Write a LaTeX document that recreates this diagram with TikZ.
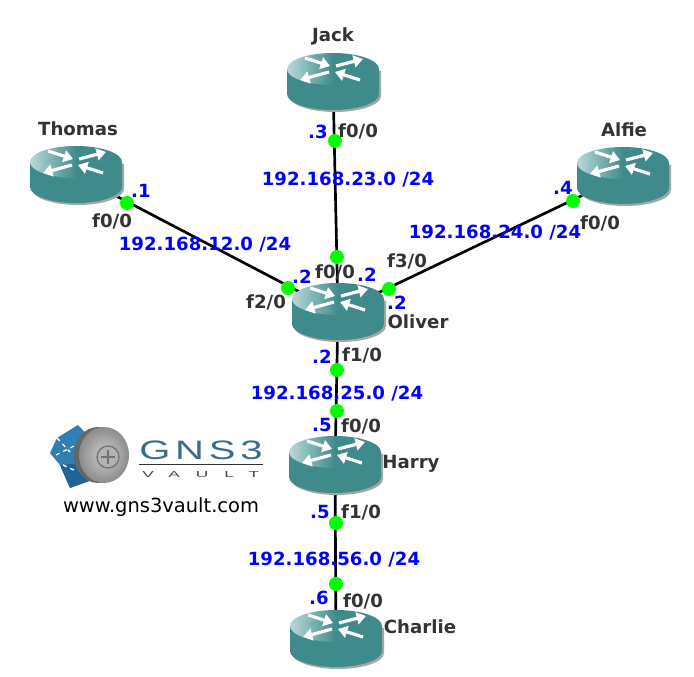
\documentclass[tikz,border=0pt]{standalone}
\usepackage{fontspec}
\setmainfont{DejaVu Sans}
\newfontfamily\logofont[LetterSpace=12]{Liberation Sans}
\newfontfamily\vaultfont[LetterSpace=92]{Liberation Sans}
\usetikzlibrary{arrows.meta}
\definecolor{routerteal}{HTML}{3F8B8B}
\definecolor{routerlight}{HTML}{B9D8D8}
\definecolor{logoblue}{HTML}{2F7FB5}
\definecolor{logodark}{HTML}{1F6496}
\definecolor{logotext}{HTML}{3D6B85}

\begin{document}
\begin{tikzpicture}[
    x=0.75pt, y=-0.75pt,
    hub/.style={circle, inner sep=0pt, minimum size=6pt},
    dot/.style={circle, fill=green, inner sep=0pt, minimum size=10.5pt},
    link/.style={draw=black, line width=2pt},
    host/.style={font=\bfseries\fontsize{13.6}{15}\selectfont, text=black!80, yshift=-1pt},
    port/.style={font=\bfseries\fontsize{13.6}{15}\selectfont, text=black!80, inner sep=0pt, yshift=-1pt},
    addr/.style={font=\bfseries\fontsize{13.6}{15}\selectfont, text=blue, inner sep=0pt, yshift=-1pt},
    net/.style={font=\bfseries\fontsize{13.6}{15}\selectfont, text=blue, inner sep=0pt, yshift=-1pt},
    flow/.style={white, line width=2.4pt, -{Triangle[width=9pt,length=7pt]}},
    router/.pic={
        \fill[black!35] (-44,-11) -- (-44,14) arc[start angle=180, end angle=0, x radius=46, y radius=16] -- (48,-11) -- cycle;
        \fill[routerteal] (-46,-13) -- (-46,12) arc[start angle=180, end angle=0, x radius=46, y radius=16] -- (46,-13) -- cycle;
        \shade[left color=routerlight, right color=routerteal, middle color=routerteal] (0,-13) ellipse[x radius=46, y radius=16];
        \draw[flow] (-28,-24) -- (-3,-16);
        \draw[flow] (3,-16) -- (30,-23);
        \draw[flow] (-4,-10) -- (-33,-2);
        \draw[flow] (27,-2) -- (2,-10);
    }
]
    \useasboundingbox (0,0) rectangle (694,677);
    \fill[white] (0,0) rectangle (694,677);

    % Nodes
    \node[hub] (jack) at (333,82) {};
    \node[hub] (thomas) at (76,175) {};
    \node[hub] (alfie) at (623,176) {};
    \node[hub] (oliver) at (338,312) {};
    \node[hub] (harry) at (335,465) {};
    \node[hub] (charlie) at (336,639) {};

    % Edges
    \draw[link] (jack) -- (oliver);
    \draw[link] (thomas) -- (oliver);
    \draw[link] (alfie) -- (oliver);
    \draw[link] (oliver) -- (harry);
    \draw[link] (harry) -- (charlie);

    % Routers
    \pic at (jack) {router};
    \pic at (thomas) {router};
    \pic at (alfie) {router};
    \pic at (oliver) {router};
    \pic at (harry) {router};
    \pic at (charlie) {router};

    % Interface dots
    \node[dot] at (335,141) {};
    \node[dot] at (337,257) {};
    \node[dot] at (127,203) {};
    \node[dot] at (288,288) {};
    \node[dot] at (573,201) {};
    \node[dot] at (389,289) {};
    \node[dot] at (337,370) {};
    \node[dot] at (337,411) {};
    \node[dot] at (336,523) {};
    \node[dot] at (336,584) {};

    % Names
    \node[host] at (333,35) {Jack};
    \node[host] at (78,127) {Thomas};
    \node[host] at (624,128) {Alfie};
    \node[host] at (418,320) {Oliver};
    \node[host] at (411,463) {Harry};
    \node[host] at (420,625) {Charlie};

    % Networks
    \node[net] at (348,178) {192.168.23.0 /24};
    \node[net] at (205,243) {192.168.12.0 /24};
    \node[net] at (495,231) {192.168.24.0 /24};
    \node[net] at (337,392) {192.168.25.0 /24};
    \node[net] at (334,558) {192.168.56.0 /24};

    % Ports
    \node[port] at (358,130) {f0/0};
    \node[port] at (335,271) {f0/0};
    \node[port] at (112,220) {f0/0};
    \node[port] at (266,301) {f2/0};
    \node[port] at (407,260) {f3/0};
    \node[port] at (600,222) {f0/0};
    \node[port] at (362,354) {f1/0};
    \node[port] at (361,425) {f0/0};
    \node[port] at (361,511) {f1/0};
    \node[port] at (363,600) {f0/0};

    % Addresses
    \node[addr] at (318,131) {.3};
    \node[addr] at (141,190) {.1};
    \node[addr] at (563,187) {.4};
    \node[addr] at (302,275) {.2};
    \node[addr] at (367,273) {.2};
    \node[addr] at (397,301) {.2};
    \node[addr] at (322,355) {.2};
    \node[addr] at (322,424) {.5};
    \node[addr] at (320,511) {.5};
    \node[addr] at (319,597) {.6};

    % Logo
    \fill[logoblue] (50,453) -- (57,438) -- (78,425) -- (92,440) -- (92,480) -- (70,488) -- (60,465) -- cycle;
    \fill[logodark] (60,465) -- (92,462) -- (92,480) -- (70,488) -- cycle;
    \draw[white, line width=1pt, dashed] (57,438) -- (70,452) (56,455) -- (76,445) (63,465) -- (76,471);
    \fill[black!60] (98,455) ellipse[x radius=24, y radius=28];
    \shade[inner color=black!20, outer color=black!45] (104,455) ellipse[x radius=25, y radius=28];
    \draw[black!55, line width=1pt, fill=black!30] (108,457) circle[radius=11];
    \draw[black!55, line width=.8pt] (101,457) -- (115,457) (108,450) -- (108,464);
    \node[inner sep=0pt, anchor=base west, text=logotext] at (139,460) {\scalebox{1.5}[1]{\logofont\fontsize{20}{22}\selectfont GNS3}};
    \fill[black!80] (139,464) rectangle (263,465);
    \node[inner sep=0pt, anchor=base west, text=black!70] at (142,478) {\scalebox{2}[1]{\vaultfont\fontsize{6.5}{8}\selectfont VAULT}};
    \node[inner sep=0pt, text=black] at (161,507) {\fontsize{14.6}{16}\selectfont www.gns3vault.com};
\end{tikzpicture}
\end{document}
